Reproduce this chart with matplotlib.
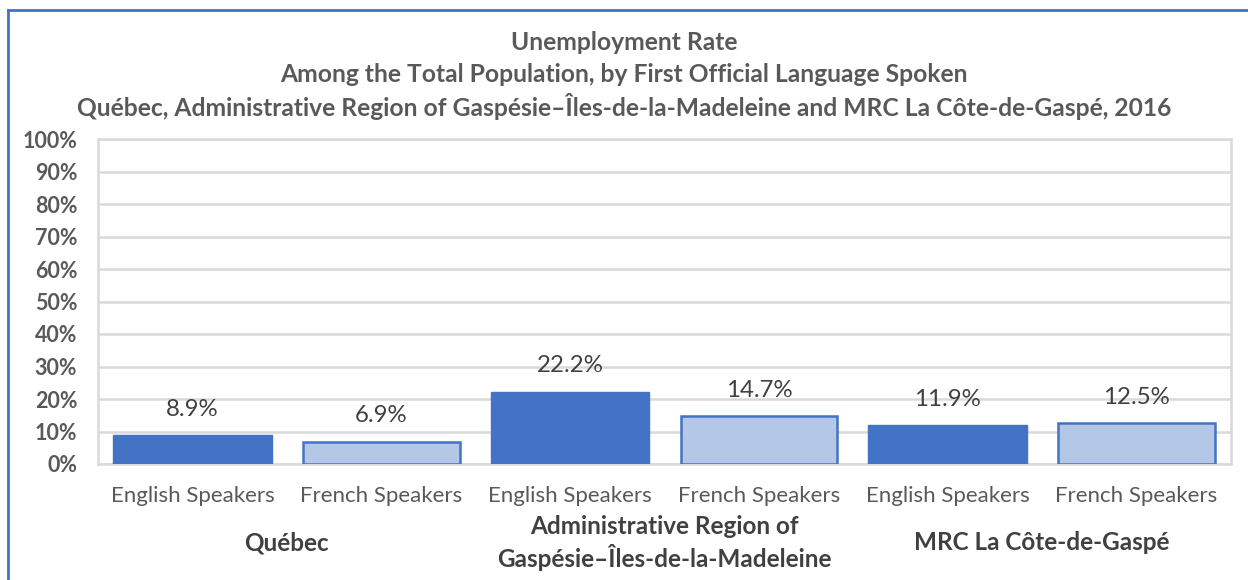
import matplotlib
matplotlib.use("Agg")
import matplotlib.pyplot as plt
from matplotlib.lines import Line2D
import matplotlib.transforms as mtransforms

plt.rcParams['font.family'] = ['Lato', 'DejaVu Sans']

groups = ["Québec", "Administrative Region of\nGaspésie–Îles-de-la-Madeleine", "MRC La Côte-de-Gaspé"]
categories = ["English Speakers", "French Speakers"]
values = [8.9, 6.9, 22.2, 14.7, 11.9, 12.5]
yticks = [0, 10, 20, 30, 40, 50, 60, 70, 80, 90, 100]
title_lines = ["Unemployment Rate",
               "Among the Total Population, by First Official Language Spoken",
               "Québec, Administrative Region of Gaspésie–Îles-de-la-Madeleine and MRC La Côte-de-Gaspé, 2016"]

dark_blue = "#4472C4"
light_blue = "#B4C7E7"
grid_c = "#D9D9D9"
text_c = "#595959"

fig = plt.figure(figsize=(12.48, 5.8), dpi=100)
ax = fig.add_axes([98/1248, 116/580, (1231-98)/1248, (464-139)/580])

n = len(values)
xs = list(range(n))
for i, v in enumerate(values):
    if i % 2 == 0:
        ax.bar(i, v, width=0.84, color=dark_blue, edgecolor=dark_blue, linewidth=1, zorder=3)
    else:
        ax.bar(i, v, width=0.84 - 0.01, color=light_blue, edgecolor=dark_blue, linewidth=1.8, zorder=3)
    ax.annotate(f"{v:.1f}%", xy=(i, v), xytext=(0, 26), textcoords='offset pixels',
                ha='center', va='center', fontsize=17.3, color="#404040", zorder=4)

ax.set_xlim(-0.5, n - 0.5)
ax.set_ylim(0, 100)
ax.set_yticks(yticks)
ax.set_yticklabels([f"{t}%" for t in yticks], fontsize=15.5, fontweight='bold', color=text_c)
ax.set_xticks(xs)
ax.set_xticklabels([categories[i % 2] for i in range(n)], fontsize=16, color=text_c)
ax.tick_params(axis='both', length=0)
ax.tick_params(axis='y', pad=15)
ax.tick_params(axis='x', pad=16)
ax.yaxis.grid(True, color=grid_c, linewidth=1.8, zorder=0)
ax.set_axisbelow(True)
for s in ax.spines.values():
    s.set_color(grid_c)
    s.set_linewidth(1.8)

trans = mtransforms.blended_transform_factory(ax.transData, fig.transFigure)
for g, name in enumerate(groups):
    cx = 2 * g + 0.5
    ax.text(cx, 1 - 543/580, name, transform=trans, ha='center', va='center',
            fontsize=17.5, fontweight='bold', color="#404040", linespacing=1.3)

for k, (line, y) in enumerate(zip(title_lines, [42, 74, 106])):
    fig.text(0.5, 1 - y/580, line, ha='center', va='center',
             fontsize=17.7, fontweight='bold', color=text_c)

fig.add_artist(Line2D([8/1248, 1], [1 - 10/580, 1 - 10/580], transform=fig.transFigure,
                      color=dark_blue, linewidth=2))
fig.add_artist(Line2D([8/1248, 8/1248], [0, 1 - 10/580], transform=fig.transFigure,
                      color=dark_blue, linewidth=2))

fig.savefig("out.png", dpi=100)
